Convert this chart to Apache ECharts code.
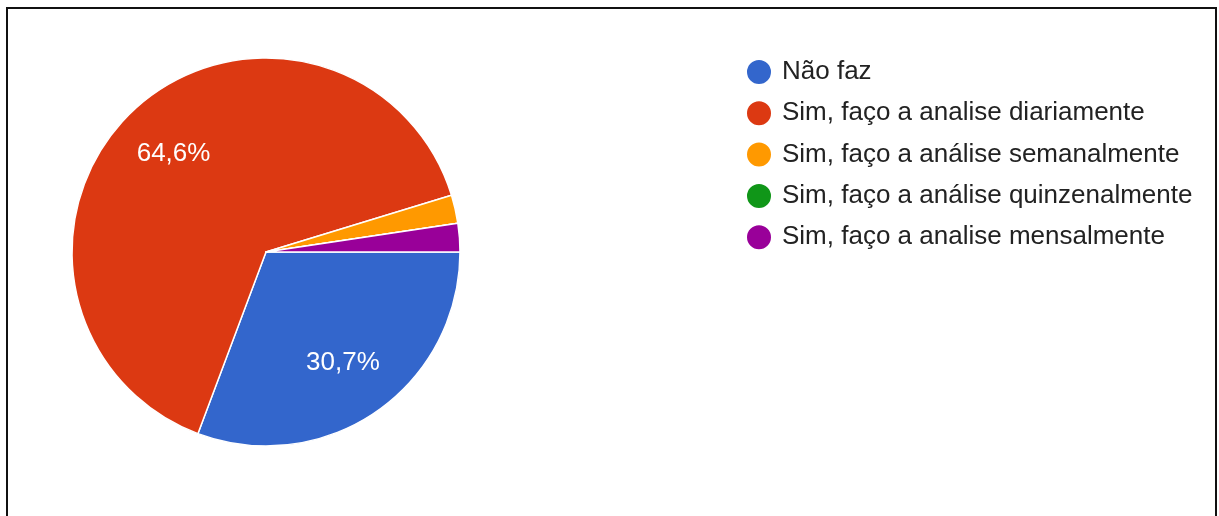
<!DOCTYPE html>
<html>
<head>
<meta charset="utf-8">
<style>
  html, body { margin: 0; padding: 0; background: #fff; }
  #frame {
    position: absolute; left: 6px; top: 7px; width: 1207px; height: 530px;
    border: 2px solid #111; border-bottom: none; background: #fff;
  }
  #chart { position: absolute; left: 0; top: 0; width: 1219px; height: 516px; }
</style>
<script src="https://cdn.jsdelivr.net/npm/echarts@6/dist/echarts.min.js"></script>
</head>
<body>
<div id="frame"></div>
<div id="chart"></div>
<script>
// Respostas: faz análise dos dados?
const categories = [
  'Não faz',
  'Sim, faço a analise diariamente',
  'Sim, faço a análise semanalmente',
  'Sim, faço a análise quinzenalmente',
  'Sim, faço a analise mensalmente'
];
const counts = [39, 82, 3, 0, 3];
const colors = ['#3366cc', '#dc3912', '#ff9900', '#109618', '#990099'];

const FONT = '"Liberation Sans", Arial, sans-serif';

const pieData = categories.map((name, i) => ({
  name: name,
  value: counts[i],
  itemStyle: { color: colors[i] }
}));

const center = [266, 252];
const chart = echarts.init(document.getElementById('chart'), null, { renderer: 'canvas' });

chart.setOption({
  animation: false,
  color: colors,
  legend: {
    orient: 'vertical',
    left: 745,
    top: 58,
    padding: 0,
    icon: 'circle',
    itemWidth: 26,
    itemHeight: 26,
    itemGap: 13.3,
    selectedMode: false,
    textStyle: {
      fontFamily: FONT,
      fontSize: 26,
      lineHeight: 26,
      color: '#222',
      padding: [0, 0, 0, 5]
    },
    data: categories
  },
  series: [
    {
      type: 'pie',
      center: center,
      radius: [0, 194],
      startAngle: 0,
      clockwise: true,
      silent: true,
      label: { show: false },
      labelLine: { show: false },
      itemStyle: { borderColor: '#fff', borderWidth: 1.5 },
      data: pieData
    },
    {
      // percentage labels, placed at ~70% of the radius
      type: 'pie',
      center: center,
      radius: [70, 194],
      startAngle: 0,
      clockwise: true,
      silent: true,
      percentPrecision: 1,
      itemStyle: { color: 'rgba(0,0,0,0)' },
      label: {
        show: true,
        position: 'inside',
        color: '#fff',
        fontFamily: FONT,
        fontSize: 26,
        formatter: p => p.percent >= 5 ? String(p.percent.toFixed(1)).replace('.', ',') + '%' : ''
      },
      labelLine: { show: false },
      data: categories.map((name, i) => ({ name: name, value: counts[i] }))
    }
  ]
});
</script>
</body>
</html>
